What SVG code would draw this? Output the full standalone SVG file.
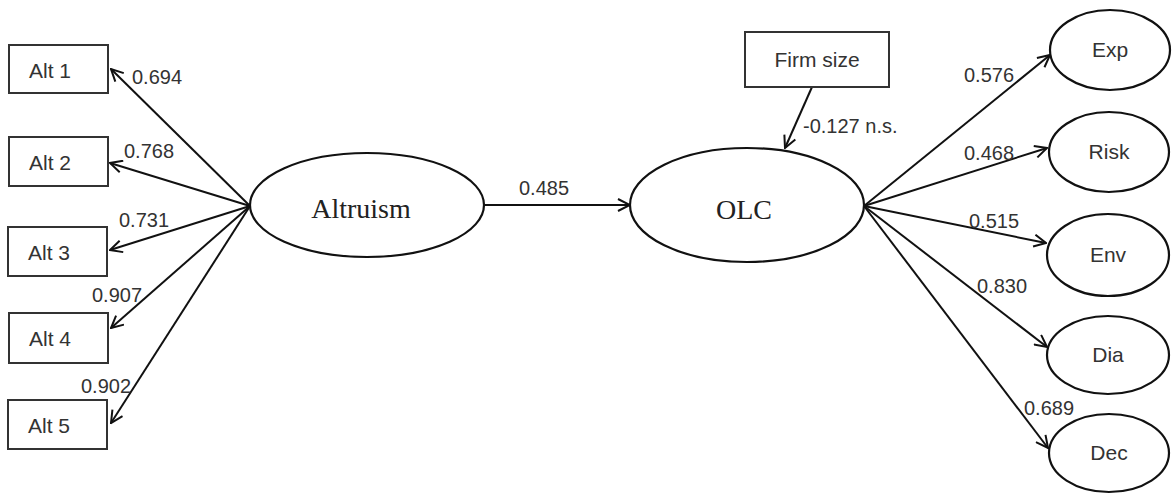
<svg xmlns="http://www.w3.org/2000/svg" width="1172" height="494" viewBox="0 0 1172 494">
<style>
.box{fill:#fff;stroke:#333;stroke-width:2}
.ell{fill:#fff;stroke:#111;stroke-width:2.2}
.lbl{font-family:"Liberation Sans",Arial,sans-serif;font-size:21px;fill:#333}
.big{font-family:"Liberation Serif","Times New Roman",serif;font-size:28px;fill:#222}
.con line{stroke:#111;stroke-width:2;fill:none}
.num{font-family:"Liberation Sans",Arial,sans-serif;font-size:20px;fill:#333}
</style>
<defs>
<marker id="ah" viewBox="0 0 14 14" refX="13" refY="7" markerWidth="14" markerHeight="14" markerUnits="userSpaceOnUse" orient="auto">
<path d="M1,1 L13,7 L1,13" fill="none" stroke="#111" stroke-width="2"/>
</marker>
</defs>
<rect width="1172" height="494" fill="#fff"/>
<g class="con">
<line x1="250" y1="206" x2="111" y2="69" marker-end="url(#ah)"/>
<line x1="250" y1="206" x2="110" y2="163" marker-end="url(#ah)"/>
<line x1="250" y1="206" x2="110" y2="250" marker-end="url(#ah)"/>
<line x1="250" y1="206" x2="111" y2="328" marker-end="url(#ah)"/>
<line x1="250" y1="206" x2="111" y2="423" marker-end="url(#ah)"/>
<line x1="485" y1="205" x2="630" y2="205" marker-end="url(#ah)"/>
<line x1="812" y1="87" x2="785" y2="148" marker-end="url(#ah)"/>
<line x1="864" y1="206" x2="1050" y2="55" marker-end="url(#ah)"/>
<line x1="864" y1="206" x2="1047" y2="148" marker-end="url(#ah)"/>
<line x1="864" y1="206" x2="1046" y2="243" marker-end="url(#ah)"/>
<line x1="864" y1="206" x2="1047" y2="347" marker-end="url(#ah)"/>
<line x1="864" y1="206" x2="1048" y2="448" marker-end="url(#ah)"/>
<text class="num" x="132" y="84">0.694</text>
<text class="num" x="124" y="158">0.768</text>
<text class="num" x="119" y="227">0.731</text>
<text class="num" x="92" y="302">0.907</text>
<text class="num" x="81" y="393">0.902</text>
<text class="num" x="519" y="195">0.485</text>
<text class="num" x="803" y="133">-0.127 n.s.</text>
<text class="num" x="964" y="82">0.576</text>
<text class="num" x="964" y="160">0.468</text>
<text class="num" x="969" y="228">0.515</text>
<text class="num" x="977" y="293">0.830</text>
<text class="num" x="1024" y="415">0.689</text>
</g>
<g id="alt1"><rect class="box" x="9" y="45" width="99" height="48"/><text class="lbl" x="29" y="78">Alt 1</text></g>
<g id="alt2"><rect class="box" x="9" y="137" width="99" height="49"/><text class="lbl" x="29" y="170">Alt 2</text></g>
<g id="alt3"><rect class="box" x="8" y="227" width="99" height="49"/><text class="lbl" x="28" y="260">Alt 3</text></g>
<g id="alt4"><rect class="box" x="9" y="313" width="99" height="50"/><text class="lbl" x="29" y="346">Alt 4</text></g>
<g id="alt5"><rect class="box" x="8" y="400" width="99" height="49"/><text class="lbl" x="28" y="433">Alt 5</text></g>
<g id="altruism"><ellipse class="ell" cx="367" cy="205" rx="117" ry="52"/><text class="big" x="361" y="218" text-anchor="middle">Altruism</text></g>
<g id="olc"><ellipse class="ell" cx="747" cy="205" rx="117" ry="57"/><text class="big" x="744" y="219" text-anchor="middle">OLC</text></g>
<g id="firmsize"><rect class="box" x="745" y="32" width="144" height="55"/><text class="lbl" x="817" y="67" text-anchor="middle">Firm size</text></g>
<g id="exp"><ellipse class="ell" cx="1110" cy="50" rx="60" ry="40"/><text class="lbl" x="1110" y="57" text-anchor="middle">Exp</text></g>
<g id="risk"><ellipse class="ell" cx="1109" cy="152" rx="60" ry="40"/><text class="lbl" x="1109" y="159" text-anchor="middle">Risk</text></g>
<g id="env"><ellipse class="ell" cx="1108" cy="255" rx="61" ry="41"/><text class="lbl" x="1108" y="262" text-anchor="middle">Env</text></g>
<g id="dia"><ellipse class="ell" cx="1108" cy="355" rx="61" ry="39"/><text class="lbl" x="1108" y="362" text-anchor="middle">Dia</text></g>
<g id="dec"><ellipse class="ell" cx="1109" cy="453" rx="60" ry="39"/><text class="lbl" x="1109" y="460" text-anchor="middle">Dec</text></g>
</svg>
